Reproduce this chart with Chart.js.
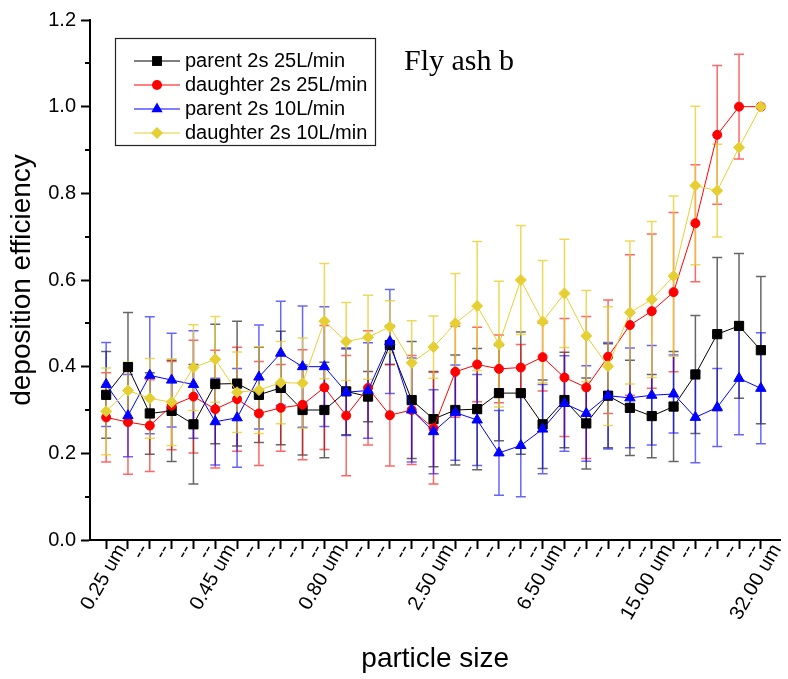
<!DOCTYPE html>
<html>
<head>
<meta charset="utf-8">
<title>Fly ash b</title>
<script src="https://cdn.jsdelivr.net/npm/chart.js@4.4.1/dist/chart.umd.min.js"></script>
<style>
  html, body { margin: 0; padding: 0; background: #fff; }
  canvas { display: block; }
</style>
</head>
<body>
<canvas id="grafica" width="788" height="679"></canvas>
<script>
// 31 size channels, only every fifth one gets a name
const sizeLabels = ['0.25 um', '--', '--', '--', '--', '0.45 um', '--', '--', '--', '--',
                    '0.80 um', '--', '--', '--', '--', '2.50 um', '--', '--', '--', '--',
                    '6.50 um', '--', '--', '--', '--', '15.00 um', '--', '--', '--', '--', '32.00 um'];
const seriesNames = ['parent 2s 25L/min', 'daughter 2s 25L/min', 'parent 2s 10L/min', 'daughter 2s 10L/min'];

const parent25 = [0.335, 0.399, 0.292, 0.298, 0.267, 0.360, 0.361, 0.335, 0.351, 0.300, 0.300,
                  0.343, 0.331, 0.450, 0.323, 0.279, 0.300, 0.302, 0.339, 0.339, 0.267,
                  0.323, 0.269, 0.333, 0.305, 0.286, 0.308, 0.382, 0.475, 0.494, 0.438];
const parent25Err = [0.100, 0.126, 0.094, 0.117, 0.138, 0.138, 0.144, 0.110, 0.131, 0.104, 0.110,
                     0.100, 0.058, 0.045, 0.135, 0.110, 0.127, 0.140, 0.110, 0.141, 0.102,
                     0.110, 0.105, 0.120, 0.110, 0.096, 0.127, 0.136, 0.177, 0.167, 0.170];

const daughter25 = [0.283, 0.272, 0.264, 0.310, 0.331, 0.302, 0.325, 0.292, 0.305, 0.312, 0.352,
                    0.287, 0.351, 0.288, 0.300, 0.258, 0.388, 0.405, 0.395, 0.398, 0.422,
                    0.375, 0.352, 0.423, 0.496, 0.528, 0.572, 0.731, 0.935, 1.000, 1.000];
const daughter25Err = [0.103, 0.120, 0.106, 0.102, 0.130, 0.136, 0.120, 0.120, 0.100, 0.127, 0.143,
                       0.139, 0.132, 0.117, 0.126, 0.129, 0.105, 0.086, 0.078, 0.053, 0.078,
                       0.136, 0.164, 0.131, 0.162, 0.178, 0.184, 0.135, 0.160, 0.121, 0.000];

const parent10 = [0.359, 0.287, 0.380, 0.369, 0.359, 0.273, 0.282, 0.376, 0.431, 0.400, 0.400,
                  0.341, 0.345, 0.458, 0.300, 0.250, 0.294, 0.277, 0.201, 0.218, 0.256,
                  0.315, 0.292, 0.333, 0.328, 0.334, 0.337, 0.283, 0.306, 0.373, 0.350];
const parent10Err = [0.097, 0.095, 0.135, 0.108, 0.124, 0.100, 0.114, 0.120, 0.120, 0.140, 0.138,
                     0.100, 0.110, 0.120, 0.120, 0.097, 0.110, 0.105, 0.098, 0.118, 0.103,
                     0.110, 0.110, 0.123, 0.115, 0.115, 0.090, 0.105, 0.090, 0.130, 0.128];

const daughter10 = [0.297, 0.345, 0.327, 0.318, 0.398, 0.417, 0.341, 0.346, 0.363, 0.362, 0.505,
                    0.458, 0.468, 0.492, 0.409, 0.445, 0.500, 0.540, 0.452, 0.600, 0.504,
                    0.569, 0.471, 0.401, 0.525, 0.555, 0.609, 0.818, 0.806, 0.906, 1.000];
const daughter10Err = [0.100, 0.065, 0.092, 0.100, 0.099, 0.099, 0.093, 0.100, 0.095, 0.104, 0.133,
                       0.090, 0.097, 0.060, 0.097, 0.072, 0.115, 0.149, 0.145, 0.126, 0.141,
                       0.125, 0.105, 0.137, 0.165, 0.180, 0.185, 0.183, 0.107, 0.000, 0.000];

const minorTicks = [0.1, 0.3, 0.5, 0.7, 0.9, 1.1];

const fuente = '"Liberation Sans", Arial, sans-serif';
const amarillo = '#e6cf33';

const puntos = arr => arr.map((v, i) => ({ x: i, y: v }));

// vertical error bars with caps, drawn under the lines
const barrasError = {
    id: 'barrasError',
    beforeDatasetsDraw(chart) {
        const ctx = chart.ctx;
        const xs = chart.scales.x, ys = chart.scales.y;
        ctx.save();
        ctx.lineWidth = 1.5;
        chart.data.datasets.forEach(ds => {
            ctx.strokeStyle = ds.errColor;
            ds.data.forEach((p, i) => {
                const e = ds.errors[i];
                if (!e) return;
                const px = xs.getPixelForValue(p.x);
                const top = ys.getPixelForValue(p.y + e);
                const bot = ys.getPixelForValue(p.y - e);
                ctx.beginPath();
                ctx.moveTo(px, top); ctx.lineTo(px, bot);
                ctx.moveTo(px - 5, top); ctx.lineTo(px + 5, top);
                ctx.moveTo(px - 5, bot); ctx.lineTo(px + 5, bot);
                ctx.stroke();
            });
        });
        ctx.restore();
    }
};

function marcador(ctx, estilo, r, x, y) {
    ctx.beginPath();
    if (estilo === 'rect') {
        const s = Math.SQRT1_2 * r;
        ctx.rect(x - s, y - s, 2 * s, 2 * s);
    } else if (estilo === 'circle') {
        ctx.arc(x, y, r, 0, Math.PI * 2);
    } else if (estilo === 'triangle') {
        ctx.moveTo(x, y - r);
        ctx.lineTo(x + r * Math.sin(2 * Math.PI / 3), y - r * Math.cos(2 * Math.PI / 3));
        ctx.lineTo(x + r * Math.sin(4 * Math.PI / 3), y - r * Math.cos(4 * Math.PI / 3));
        ctx.closePath();
    } else {
        ctx.moveTo(x - r, y); ctx.lineTo(x, y - r); ctx.lineTo(x + r, y); ctx.lineTo(x, y + r);
        ctx.closePath();
    }
    ctx.fill();
}

// minor ticks, legend box and the "Fly ash b" note
const extras = {
    id: 'extras',
    afterDraw(chart) {
        const ctx = chart.ctx;
        const ys = chart.scales.y;
        const left = chart.chartArea.left;
        ctx.save();
        ctx.strokeStyle = '#000';
        ctx.lineWidth = 2;
        minorTicks.forEach(v => {
            const py = Math.round(ys.getPixelForValue(v));
            ctx.beginPath();
            ctx.moveTo(left - 5, py); ctx.lineTo(left, py);
            ctx.stroke();
        });

        ctx.fillStyle = '#000';
        ctx.font = '30px "Liberation Serif", "Times New Roman", serif';
        ctx.textBaseline = 'alphabetic';
        ctx.textAlign = 'left';
        ctx.fillText('Fly ash b', 404, 70);

        ctx.lineWidth = 1.2;
        ctx.strokeStyle = '#222';
        ctx.strokeRect(115.5, 38.5, 260, 107);
        ctx.font = '20px ' + fuente;
        ctx.textBaseline = 'middle';
        chart.data.datasets.forEach((ds, k) => {
            const fy = 61 + 24 * k;
            ctx.strokeStyle = ds.borderColor;
            ctx.lineWidth = 1;
            ctx.beginPath();
            ctx.moveTo(134, fy); ctx.lineTo(180, fy);
            ctx.stroke();
            ctx.fillStyle = ds.pointBackgroundColor;
            marcador(ctx, ds.pointStyle, ds.pointRadius + 0.5, 157, fy);
            ctx.fillStyle = '#000';
            ctx.fillText(ds.label, 185, fy);
        });
        ctx.restore();
    }
};

const serie = (nombre, datos, errores, color, colorError, estilo, radio, orden) => ({
    label: nombre,
    data: puntos(datos),
    errors: errores,
    errColor: colorError,
    borderColor: color,
    backgroundColor: color,
    pointBackgroundColor: color,
    pointBorderColor: color,
    borderWidth: 1,
    pointBorderWidth: 1,
    pointStyle: estilo,
    pointRadius: radio,
    tension: 0,
    order: orden
});

const ctx = document.getElementById('grafica').getContext('2d');
new Chart(ctx, {
    type: 'line',
    data: {
        datasets: [
            serie(seriesNames[0], parent25, parent25Err, '#000000', 'rgba(0,0,0,0.6)', 'rect', 6.5, 4),
            serie(seriesNames[1], daughter25, daughter25Err, '#ff0000', 'rgba(255,0,0,0.6)', 'circle', 4.5, 3),
            serie(seriesNames[2], parent10, parent10Err, '#0000ff', 'rgba(0,0,255,0.6)', 'triangle', 6, 2),
            serie(seriesNames[3], daughter10, daughter10Err, amarillo, 'rgba(230,207,51,0.8)', 'rectRot', 5.5, 1)
        ]
    },
    options: {
        responsive: false,
        animation: false,
        layout: { padding: { top: 20, right: 0, bottom: 0, left: 0 } },
        plugins: { legend: { display: false }, tooltip: { enabled: false } },
        scales: {
            x: {
                type: 'linear',
                min: -0.74,
                max: 30.9,
                afterBuildTicks: s => { s.ticks = sizeLabels.map((t, i) => ({ value: i })); },
                afterFit: s => { s.height = 139; },
                grid: { drawOnChartArea: false, tickLength: 9, tickWidth: 2, tickColor: '#000' },
                border: { color: '#000', width: 2 },
                ticks: {
                    autoSkip: false, minRotation: 60, maxRotation: 60,
                    labelOffset: 16, padding: -9,
                    color: '#000', font: { family: fuente, size: 20 },
                    callback: v => sizeLabels[v]
                },
                title: { display: true, text: 'particle size', color: '#000',
                         font: { family: fuente, size: 28 }, padding: { top: 0, bottom: 3 } }
            },
            y: {
                min: 0,
                max: 1.2,
                afterFit: s => { s.width = 90; },
                grid: { drawOnChartArea: false, tickLength: 9, tickWidth: 2, tickColor: '#000' },
                border: { color: '#000', width: 2 },
                ticks: { stepSize: 0.2, padding: 5, color: '#000', font: { family: fuente, size: 20 },
                         callback: v => v.toFixed(1) },
                title: { display: true, text: 'deposition efficiency', color: '#000',
                         font: { family: fuente, size: 28 }, padding: { top: 5, bottom: 0 } }
            }
        }
    },
    plugins: [barrasError, extras]
});
</script>
</body>
</html>
